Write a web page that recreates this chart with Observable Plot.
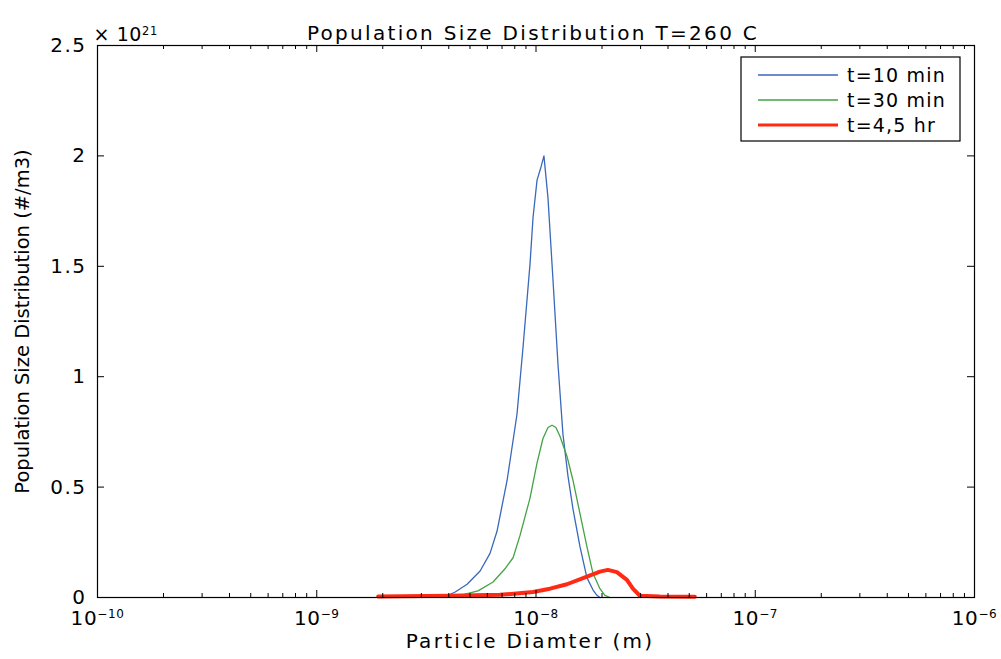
<!DOCTYPE html>
<html><head><meta charset="utf-8">
<script src="https://cdn.jsdelivr.net/npm/d3@7"></script>
<script src="https://cdn.jsdelivr.net/npm/@observablehq/plot@0.6"></script>
<style>
body{margin:0;background:#fff;}
#chart{width:1001px;height:659px;}
</style></head><body><div id="chart"></div>
<script>
// Series labels and colours
const seriesNames = ["t=10 min", "t=30 min", "t=4,5 hr"];
const seriesColors = ["#3a68ba", "#45a245", "#ff2a14"];

// Particle diameter (m) and population size distribution (x 10^21 #/m3)
const blueD = [3.77e-9, 4.28e-9, 4.85e-9, 5.56e-9, 6.17e-9, 6.64e-9, 7.38e-9, 8.19e-9, 8.72e-9, 9.39e-9, 9.69e-9, 1.011e-8, 1.054e-8, 1.087e-8, 1.134e-8, 1.195e-8, 1.259e-8, 1.327e-8, 1.399e-8, 1.475e-8, 1.587e-8, 1.707e-8, 1.818e-8, 1.896e-8, 1.957e-8];
const blueN = [0.0, 0.025, 0.06, 0.12, 0.2, 0.30, 0.53, 0.83, 1.13, 1.51, 1.72, 1.89, 1.95, 2.0, 1.81, 1.44, 1.06, 0.74, 0.55, 0.40, 0.23, 0.09, 0.035, 0.01, 0.0];

const greenD = [4.51e-9, 5.44e-9, 6.37e-9, 7.22e-9, 7.86e-9, 8.45e-9, 9.39e-9, 1.011e-8, 1.076e-8, 1.134e-8, 1.183e-8, 1.233e-8, 1.286e-8, 1.384e-8, 1.475e-8, 1.587e-8, 1.707e-8, 1.818e-8, 1.957e-8, 2.063e-8, 2.174e-8];
const greenN = [0.01, 0.03, 0.07, 0.13, 0.18, 0.28, 0.45, 0.61, 0.72, 0.77, 0.78, 0.77, 0.73, 0.64, 0.53, 0.38, 0.23, 0.11, 0.04, 0.01, 0.0];

const redD = [1.906e-9, 4.06e-9, 6.85e-9, 9.69e-9, 1.158e-8, 1.384e-8, 1.707e-8, 1.957e-8, 2.128e-8, 2.339e-8, 2.598e-8, 2.767e-8, 2.977e-8, 3.67e-8, 5.30e-8];
const redN = [0.005, 0.008, 0.012, 0.025, 0.04, 0.06, 0.095, 0.117, 0.125, 0.115, 0.08, 0.04, 0.008, 0.004, 0.003];

// Axis ticks
const xMajor = [1e-10, 1e-9, 1e-8, 1e-7, 1e-6];
const minorMult = [2, 3, 4, 5, 6, 7, 8, 9];
const yTicks = [0, 0.5, 1, 1.5, 2, 2.5];

const titleText = "Population Size Distribution T=260 C";
const xLabel = "Particle Diamter (m)";
const yLabel = "Population Size Distribution (#/m3)";
const yExponent = "\u00d7 10^21";

const toRows = (D, N, s) => D.map((d, i) => ({d, n: N[i], s}));
const rows = [
  ...toRows(blueD, blueN, seriesNames[0]),
  ...toRows(greenD, greenN, seriesNames[1]),
  ...toRows(redD, redN, seriesNames[2])
];
const xMinor = xMajor.slice(0, -1).flatMap(b => minorMult.map(m => b * m));

const W = 1001, H = 659, mL = 97, mR = 27, mT = 45, mB = 62;
const innerH = H - mT - mB;
const innerW = W - mL - mR;
const FONT = "DejaVu Sans";

const lineMark = (name, i, w) => Plot.line(rows.filter(r => r.s === name), {
  x: "d", y: "n", stroke: seriesColors[i], strokeWidth: w, curve: "linear"
});

const chart = Plot.plot({
  width: W, height: H,
  marginLeft: mL, marginRight: mR, marginTop: mT, marginBottom: mB,
  style: {fontFamily: FONT, background: "#fff", color: "#000"},
  x: {type: "log", domain: [1e-10, 1e-6], axis: null},
  y: {domain: [0, 2.5], axis: null},
  marks: [
    lineMark(seriesNames[0], 0, 1.3),
    lineMark(seriesNames[1], 1, 1.3),
    lineMark(seriesNames[2], 2, 4),
    Plot.frame({stroke: "#000", strokeWidth: 1.2}),
    // inward ticks, MATLAB style
    Plot.tickX(xMajor, {x: d => d, insetTop: innerH - 7, stroke: "#000"}),
    Plot.tickX(xMajor, {x: d => d, insetBottom: innerH - 7, stroke: "#000"}),
    Plot.tickX(xMinor, {x: d => d, insetTop: innerH - 4, stroke: "#000"}),
    Plot.tickX(xMinor, {x: d => d, insetBottom: innerH - 4, stroke: "#000"}),
    Plot.tickY(yTicks, {y: d => d, insetRight: innerW - 7, stroke: "#000"}),
    Plot.tickY(yTicks, {y: d => d, insetLeft: innerW - 7, stroke: "#000"}),
    Plot.axisX(xMajor, {
      anchor: "bottom", tickSize: 0, tickPadding: 13, fontSize: 20, label: null,
      tickFormat: d => "10^" + Math.round(Math.log10(d))
    }),
    Plot.axisY(yTicks, {
      anchor: "left", tickSize: 0, tickPadding: 11, fontSize: 20, label: null,
      tickFormat: d => String(d)
    }),
    Plot.text([titleText], {frameAnchor: "top", text: d => d, dy: -20, dx: -3, fontSize: 20}),
    Plot.text([xLabel], {frameAnchor: "bottom", text: d => d, dy: 50, dx: -6, fontSize: 20}),
    Plot.text([yLabel], {frameAnchor: "left", text: d => d, dx: -75, rotate: -90, textAnchor: "middle", fontSize: 19.5}),
    Plot.text([yExponent], {frameAnchor: "top-left", text: d => d, textAnchor: "start", dx: -4, dy: -18, fontSize: 19})
  ]
});

const ns = "http://www.w3.org/2000/svg";
chart.querySelectorAll("text").forEach(t => {
  const s = t.textContent;
  if (s.includes("^")) {
    // superscript exponent
    const [base, exp] = s.split("^");
    t.textContent = "";
    const a = document.createElementNS(ns, "tspan");
    a.textContent = base;
    const b = document.createElementNS(ns, "tspan");
    b.textContent = exp.replace("-", "\u2212");
    b.setAttribute("dy", "-0.55em");
    b.setAttribute("font-size", "0.6em");
    t.appendChild(a); t.appendChild(b);
    t.setAttribute("letter-spacing", "0.6");
  } else if (s === titleText || s === xLabel) {
    t.setAttribute("letter-spacing", "2.3");
  } else if (s === yLabel) {
    t.setAttribute("letter-spacing", "0");
  } else {
    t.setAttribute("letter-spacing", "1.5");
  }
});

// legend box
const svg = d3.select(chart);
const lg = svg.append("g").attr("font-family", FONT).attr("font-size", 19).attr("text-anchor", "start");
const lx = 741, ly = 57, lw = 219, lh = 84;
lg.append("rect").attr("x", lx).attr("y", ly).attr("width", lw).attr("height", lh)
  .attr("fill", "#fff").attr("stroke", "#000").attr("stroke-width", 1.2);
seriesNames.forEach((name, i) => {
  const cy = 75 + i * 25;
  lg.append("line").attr("x1", 758).attr("x2", 838).attr("y1", cy).attr("y2", cy)
    .attr("stroke", seriesColors[i]).attr("stroke-width", i === 2 ? 3 : 1.3);
  lg.append("text").attr("x", 847).attr("y", cy).attr("dy", "0.35em")
    .attr("text-anchor", "start").attr("letter-spacing", "1.2").text(name);
});

document.getElementById("chart").appendChild(chart);
</script>
</body></html>
